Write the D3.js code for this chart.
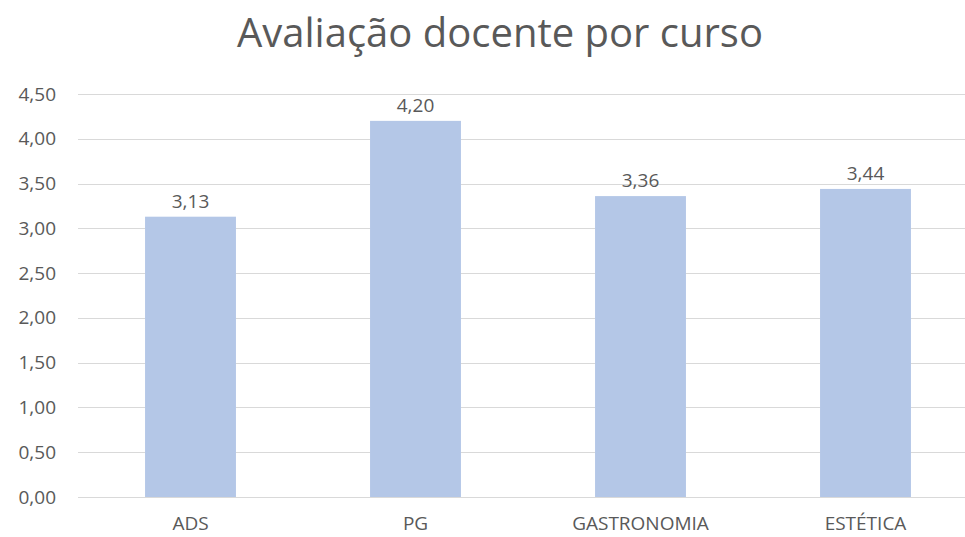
<!DOCTYPE html>
<html>
<head>
<meta charset="utf-8">
<script src="https://cdn.jsdelivr.net/npm/d3@7"></script>
<style>
body { margin: 0; background: #fff; }
text { font-family: "Open Sans", sans-serif; fill: #595959; }
</style>
</head>
<body>
<div id="chart"></div>
<script>
var cursos = ["ADS", "PG", "GASTRONOMIA", "ESTÉTICA"];
var notas = [3.13, 4.20, 3.36, 3.44];
var ticks = [0, 0.5, 1, 1.5, 2, 2.5, 3, 3.5, 4, 4.5];

var w = 965;
var h = 537;

var fmt = function(v) { return d3.format(".2f")(v).replace(".", ","); };

var svg = d3.select("#chart")
	.append("svg")
	.attr("width", w)
	.attr("height", h);

var x = d3.scaleBand().domain(cursos).range([78, 978]).paddingInner(0.596).paddingOuter(0.298);
var y = d3.scaleLinear().domain([0, 4.5]).range([497, 94]);

// grid
svg.append("g")
	.selectAll("line")
	.data(ticks)
	.enter().append("line")
	.attr("x1", 78).attr("x2", 978)
	.attr("y1", function(d) { return Math.round(y(d)) + 0.5; })
	.attr("y2", function(d) { return Math.round(y(d)) + 0.5; })
	.attr("stroke", "#d9d9d9")
	.attr("stroke-width", 1);

var yAxis = d3.axisLeft(y).tickValues(ticks).tickFormat(fmt).tickSize(0).tickPadding(0);
var gy = svg.append("g")
	.attr("transform", "translate(56,0)")
	.call(yAxis);
gy.select(".domain").remove();
gy.selectAll("text").style("font-size", "19px").attr("fill", "#595959");

svg.selectAll("rect.bar")
	.data(notas)
	.enter().append("rect")
	.attr("class", "bar")
	.attr("x", function(d, i) { return x(cursos[i]); })
	.attr("width", x.bandwidth())
	.attr("y", function(d) { return y(d); })
	.attr("height", function(d) { return y(0) - y(d); })
	.attr("fill", "#b4c7e7");

svg.selectAll("text.val")
	.data(notas)
	.enter().append("text")
	.attr("class", "val")
	.attr("x", function(d, i) { return x(cursos[i]) + x.bandwidth() / 2; })
	.attr("y", function(d) { return y(d) - 9; })
	.attr("text-anchor", "middle")
	.style("font-size", "19px")
	.text(fmt);

var xAxis = d3.axisBottom(x).tickSize(0).tickPadding(0);
var gx = svg.append("g")
	.attr("transform", "translate(0,516)")
	.call(xAxis);
gx.select(".domain").remove();
gx.selectAll("text").style("font-size", "19px").attr("fill", "#595959");

svg.append("text")
	.attr("x", 500)
	.attr("y", 47)
	.attr("text-anchor", "middle")
	.style("font-size", "40px")
	.text("Avaliação docente por curso");
</script>
</body>
</html>
